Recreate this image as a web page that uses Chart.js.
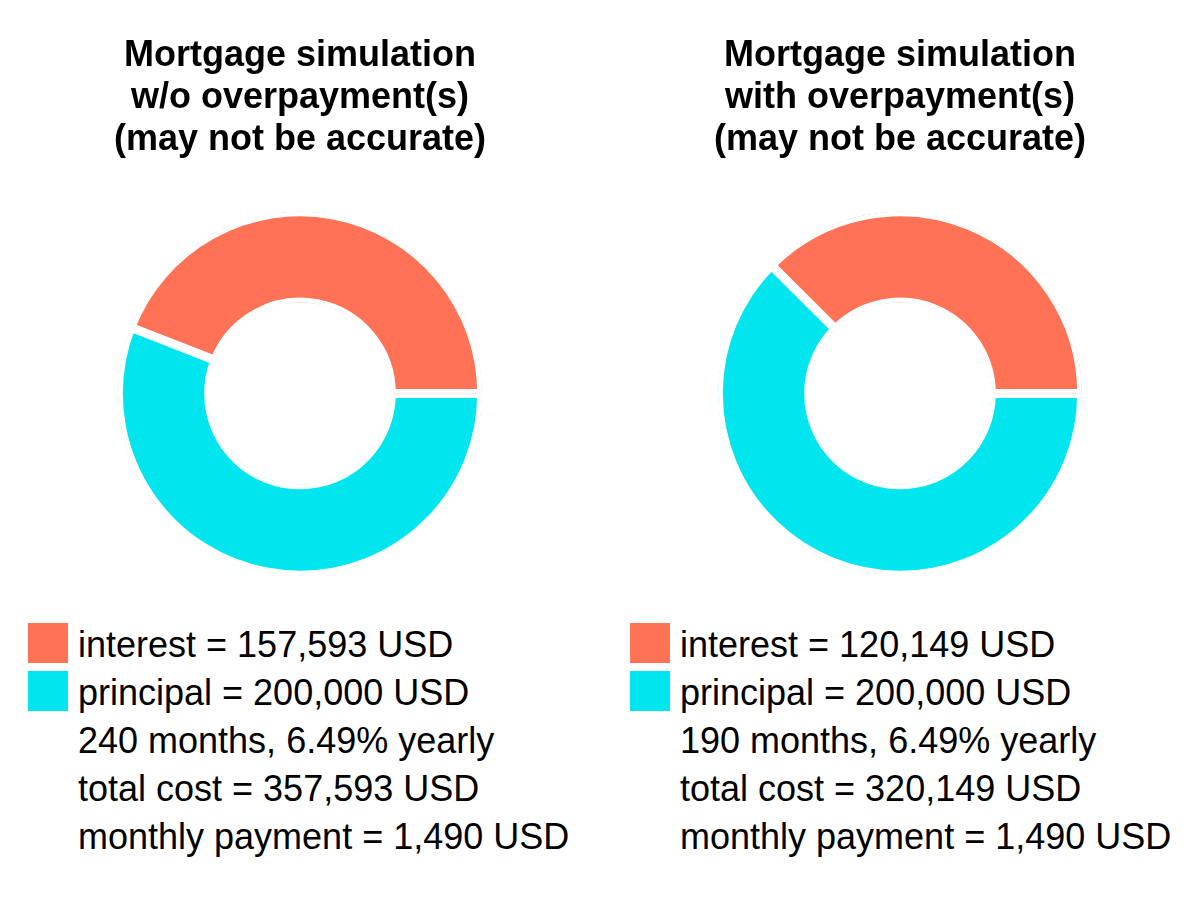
<!DOCTYPE html>
<html>
<head>
<meta charset="utf-8">
<script src="https://cdn.jsdelivr.net/npm/chart.js@4"></script>
<style>
    body { margin: 0; background: #fff; font-family: "Liberation Sans", Arial, sans-serif; }
    .panel { position: absolute; top: 0; width: 600px; height: 900px; }
    .legend { margin-top: 19px; }
    .row { display: flex; align-items: center; height: 48px; font-size: 36px; color: #000; }
    .row span:last-child { position: relative; top: 2px; }
    .box { width: 40px; height: 40px; margin-left: 28px; margin-right: 10px; }
    #leyenda1 .box { margin-left: 30px; }
</style>
</head>
<body>
<div class="panel" style="left:0"><canvas id="grafica0" width="600" height="600"></canvas><div class="legend" id="leyenda0"></div></div>
<div class="panel" style="left:600px"><canvas id="grafica1" width="600" height="600"></canvas><div class="legend" id="leyenda1"></div></div>
<script>
// values, one entry per panel
const titulos = [
    ["Mortgage simulation", "w/o overpayment(s)", "(may not be accurate)"],
    ["Mortgage simulation", "with overpayment(s)", "(may not be accurate)"]
];
const categorias = ["interest", "principal"];
const intereses = [157593, 120149];
const principales = [200000, 200000];
const meses = [240, 190];
const tasaAnual = [6.49, 6.49];
const costeTotal = [357593, 320149];
const cuotaMensual = [1490, 1490];

const colores = { interest: "#FF7256", principal: "#00E5EE" };
const fmt = n => n.toLocaleString("en-US");

function generarGrafica(i) {
    const ctx = document.getElementById("grafica" + i).getContext("2d");
    // principal first from 3 o'clock clockwise, interest closes the ring
    const orden = ["principal", "interest"];
    const valores = { interest: intereses[i], principal: principales[i] };
    new Chart(ctx, {
        type: "doughnut",
        data: {
            labels: orden,
            datasets: [{
                data: orden.map(c => valores[c]),
                backgroundColor: orden.map(c => colores[c]),
                borderColor: "#fff",
                borderWidth: 4.5,
                hoverBorderWidth: 4.5,
                borderAlign: "inner"
            }]
        },
        options: {
            responsive: false,
            animation: false,
            events: [],
            rotation: 90,
            cutout: "50%",
            layout: { padding: { top: 0, bottom: 24.5, left: 0, right: 0 } },
            plugins: {
                legend: { display: false },
                tooltip: { enabled: false },
                title: {
                    display: true,
                    text: titulos[i],
                    color: "#000",
                    font: { family: "'Liberation Sans', Arial, sans-serif", size: 36, weight: "bold", lineHeight: 42 / 36 },
                    padding: { top: 35, bottom: 50.5 }
                }
            }
        }
    });
}

function generarLeyenda(i) {
    const filas = [
        { color: colores.interest, texto: categorias[0] + " = " + fmt(intereses[i]) + " USD" },
        { color: colores.principal, texto: categorias[1] + " = " + fmt(principales[i]) + " USD" },
        { color: null, texto: meses[i] + " months, " + tasaAnual[i] + "% yearly" },
        { color: null, texto: "total cost = " + fmt(costeTotal[i]) + " USD" },
        { color: null, texto: "monthly payment = " + fmt(cuotaMensual[i]) + " USD" }
    ];
    const cont = document.getElementById("leyenda" + i);
    filas.forEach(f => {
        const fila = document.createElement("div");
        fila.className = "row";
        const caja = document.createElement("span");
        caja.className = "box";
        if (f.color) caja.style.background = f.color;
        const txt = document.createElement("span");
        txt.textContent = f.texto;
        fila.appendChild(caja);
        fila.appendChild(txt);
        cont.appendChild(fila);
    });
}

[0, 1].forEach(i => {
    generarGrafica(i);
    generarLeyenda(i);
});
</script>
</body>
</html>
